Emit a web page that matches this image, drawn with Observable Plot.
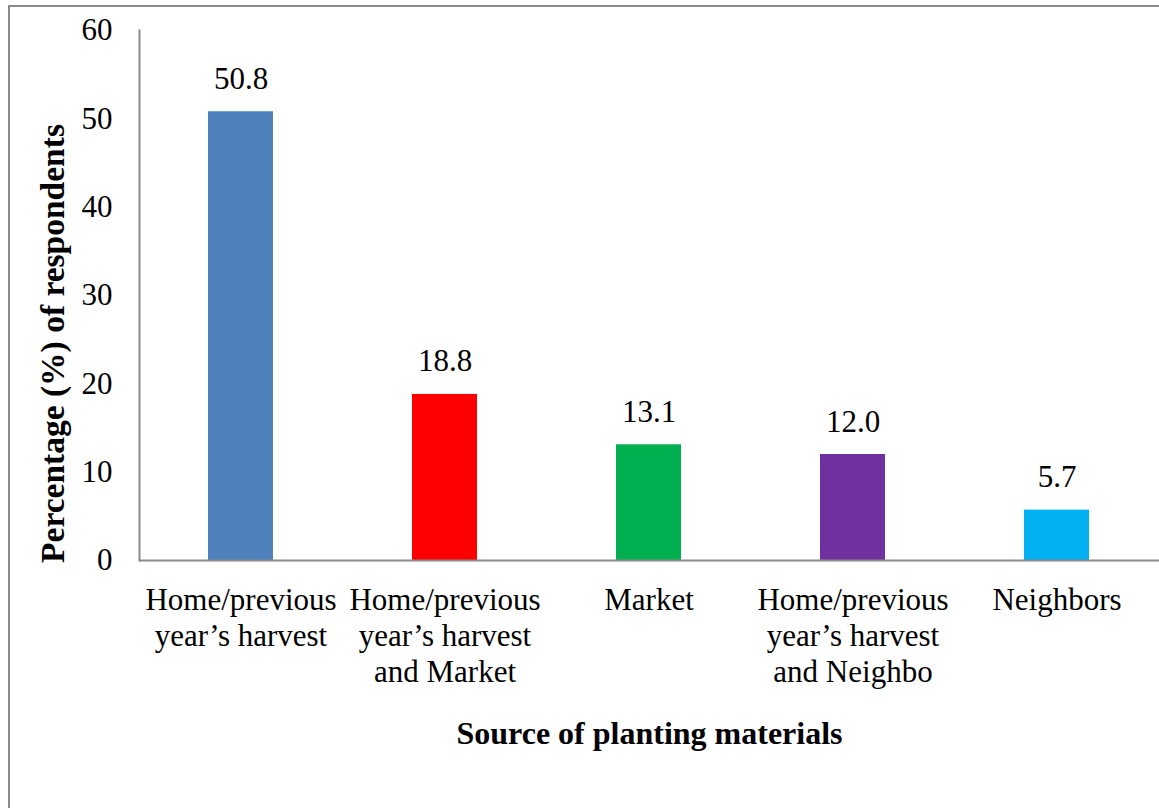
<!DOCTYPE html>
<html>
<head>
<meta charset="utf-8">
<script src="https://cdn.jsdelivr.net/npm/d3@7"></script>
<script src="https://cdn.jsdelivr.net/npm/@observablehq/plot@0.6"></script>
<style>
  html, body { margin: 0; padding: 0; background: #fff; overflow: hidden; }
  #wrap { position: relative; width: 1159px; height: 808px; }
  #border {
    position: absolute; left: 8px; top: 5px; width: 2000px; height: 2000px;
    border-left: 2px solid #8a8a8a; border-top: 2px solid #8a8a8a;
    pointer-events: none;
  }
  #chart svg { display: block; }
</style>
</head>
<body>
<div id="wrap">
  <div id="border"></div>
  <div id="chart"></div>
</div>
<script>
// Source of planting materials (share of respondents, %)
const categories = [
  "Home/previous year’s harvest",
  "Home/previous year’s harvest and Market",
  "Market",
  "Home/previous year’s harvest and Neighbo",
  "Neighbors"
];
const tickLabels = [
  "Home/previous\nyear’s harvest",
  "Home/previous\nyear’s harvest\nand Market",
  "Market",
  "Home/previous\nyear’s harvest\nand Neighbo",
  "Neighbors"
];
const values = [50.8, 18.8, 13.1, 12.0, 5.7];
const colors = ["#4F81BD", "#FF0000", "#00B050", "#7030A0", "#00B0F0"];
const yTicks = [0, 10, 20, 30, 40, 50, 60];
const xTitle = "Source of planting materials";
const yTitle = "Percentage (%) of respondents";

const rows = categories.map((c, i) => ({category: c, value: values[i], color: colors[i]}));
const labelOf = new Map(categories.map((c, i) => [c, tickLabels[i]]));
const fmt = d3.format(".1f");
const font = "'Liberation Serif', 'Times New Roman', serif";
const axisGray = "#8a8a8a";

const chart = Plot.plot({
  width: 1159,
  height: 808,
  marginLeft: 139,
  marginRight: 0,
  marginTop: 30,
  marginBottom: 248,
  style: {fontFamily: font, fontSize: "31px", color: "#000", background: "transparent"},
  x: {type: "band", domain: categories, paddingInner: 0.68, paddingOuter: 0.34, label: null},
  y: {domain: [0, 60], label: null},
  marks: [
    Plot.barY(rows, {x: "category", y: "value", fill: "color"}),
    Plot.frame({anchor: "left", stroke: axisGray, strokeWidth: 2}),
    Plot.ruleY([0], {stroke: axisGray, strokeWidth: 2}),
    Plot.axisY({ticks: yTicks, tickSize: 0, tickPadding: 27, fontSize: 31, label: null}),
    Plot.axisX({
      tickSize: 0, tickPadding: 24, fontSize: 31, lineHeight: 1.16, label: null,
      tickFormat: d => labelOf.get(d)
    }),
    Plot.text(rows, {
      x: "category", y: "value", text: d => fmt(d.value),
      lineAnchor: "bottom", dy: -23, fontSize: 31, fill: "#000"
    }),
    Plot.text([xTitle], {
      frameAnchor: "bottom", lineAnchor: "bottom", dy: 183,
      fontSize: 32, fontWeight: "bold", fill: "#000"
    }),
    Plot.text([yTitle], {
      frameAnchor: "left", textAnchor: "middle", lineAnchor: "middle",
      rotate: -90, dx: -86, dy: 48,
      fontSize: 33.5, fontWeight: "bold", fill: "#000"
    })
  ]
});
document.getElementById("chart").appendChild(chart);
</script>
</body>
</html>
